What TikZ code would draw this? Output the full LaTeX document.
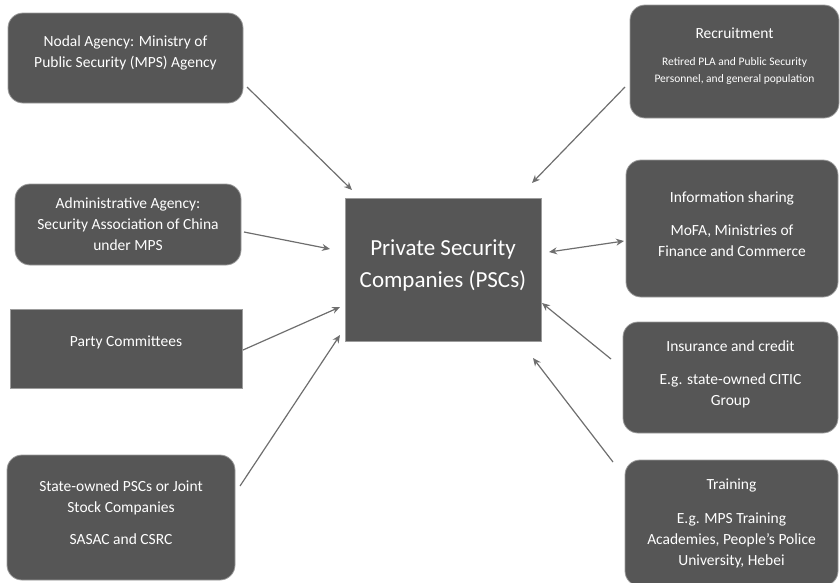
\documentclass[tikz,border=0pt]{standalone}
\usepackage{fontspec}
\setmainfont{Carlito}
\usepackage{tikz}
\usetikzlibrary{arrows.meta}
\definecolor{boxgray}{HTML}{565656}
\definecolor{rimgray}{HTML}{9C9C9C}
\definecolor{arrgray}{HTML}{6E6E6E}
\newcommand{\smalltxt}{\fontsize{11.5}{17}\selectfont}

\tikzset{
  sqbox/.style={draw=rimgray, line width=0.8pt, fill=boxgray, text=white, align=center,
    inner sep=0pt, font=\fontsize{15.5}{21}\selectfont},
  rdbox/.style={sqbox, rounded corners=15pt},
  link/.style={arrgray, line width=1.2pt, -{Stealth[length=8pt,width=7pt]}},
  both/.style={link, {Stealth[length=8pt,width=7pt]}-{Stealth[length=8pt,width=7pt]}}
}

\begin{document}
\begin{tikzpicture}[x=1pt, y=-1pt]
\useasboundingbox (0,0) rectangle (840,582);

% Centre (trailing struts lift the text a little, as in the original)
\node[sqbox, minimum width=196pt, minimum height=143pt, font=\fontsize{23}{32}\selectfont]
  (psc) at (443,269.5) {Private Security\\Companies (PSCs)\\[-29pt]\strut};

% Left column
\node[rdbox, minimum width=235pt, minimum height=90pt] (nodal) at (125.5,58)
  {Nodal Agency: Ministry of\\Public Security (MPS) Agency\\[-15pt]\strut};
\node[rdbox, minimum width=226pt, minimum height=81pt] (admin) at (128,224.5)
  {Administrative Agency:\\Security Association of China\\under MPS};
\node[sqbox, minimum width=232pt, minimum height=79pt] (party) at (126,348.5)
  {Party Committees\\[-13pt]\strut};
\node[rdbox, minimum width=228pt, minimum height=125pt] (state) at (121,517.5)
  {State-owned PSCs or Joint\\Stock Companies\\[11pt]SASAC and CSRC\\[-17pt]\strut};

% Right column
\node[rdbox, minimum width=209pt, minimum height=113pt] (recruit) at (734.5,61.5)
  {Recruitment\\[6pt]{\smalltxt Retired PLA and Public Security}\\[-4pt]{\smalltxt Personnel, and general population}\\[-15pt]\strut};
\node[rdbox, minimum width=212pt, minimum height=137pt] (info) at (732,228.5)
  {Information sharing\\[12pt]MoFA, Ministries of\\Finance and Commerce\\[-19pt]\strut};
\node[rdbox, minimum width=215pt, minimum height=111pt] (insur) at (730.5,377.5)
  {Insurance and credit\\[12pt]E.g. state-owned CITIC\\Group\\[-18pt]\strut};
\node[rdbox, minimum width=213pt, minimum height=126pt] (train) at (731.5,523)
  {Training\\[13pt]E.g. MPS Training\\Academies, People’s Police\\University, Hebei};

% Arrow ends
\coordinate (nodal-a) at (247,87);
\coordinate (nodal-b) at (352,190);
\coordinate (admin-a) at (244,232);
\coordinate (admin-b) at (330,249);
\coordinate (party-a) at (243,350);
\coordinate (party-b) at (340,307);
\coordinate (state-a) at (240,486);
\coordinate (state-b) at (340,335);
\coordinate (recruit-a) at (625,87);
\coordinate (recruit-b) at (532,183);
\coordinate (info-a) at (624,241);
\coordinate (info-b) at (549,252);
\coordinate (insur-a) at (611,359);
\coordinate (insur-b) at (542,303);
\coordinate (train-a) at (613,462);
\coordinate (train-b) at (533,358);

\draw[link] (nodal-a) -- (nodal-b);
\draw[link] (admin-a) -- (admin-b);
\draw[link] (party-a) -- (party-b);
\draw[link] (state-a) -- (state-b);
\draw[link] (recruit-a) -- (recruit-b);
\draw[both] (info-a) -- (info-b);
\draw[link] (insur-a) -- (insur-b);
\draw[link] (train-a) -- (train-b);
\end{tikzpicture}
\end{document}
